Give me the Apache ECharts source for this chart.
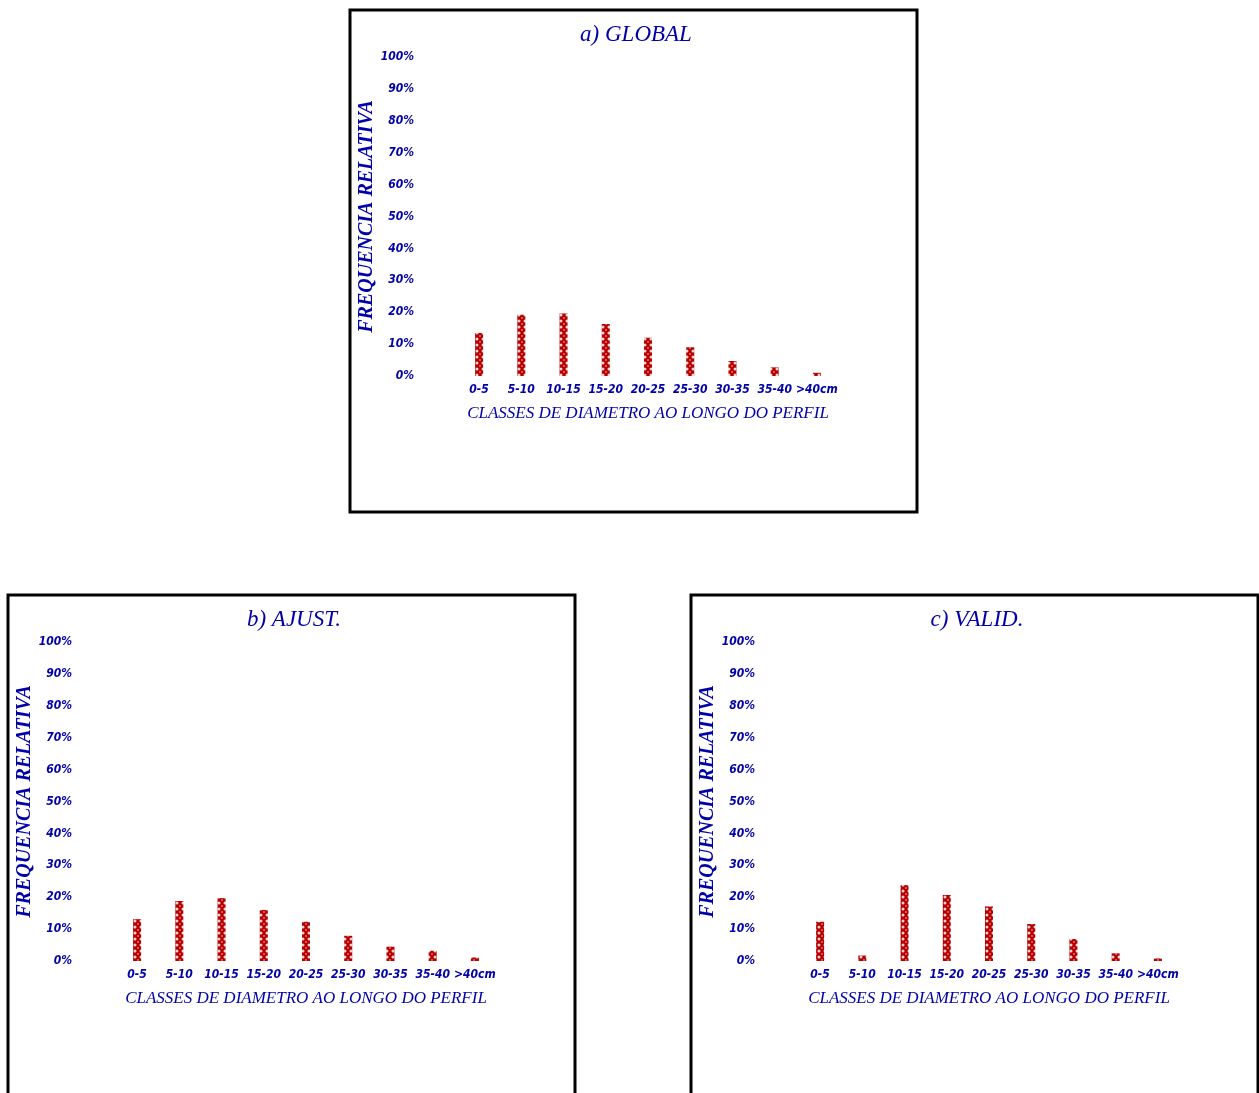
<!DOCTYPE html>
<html><head><meta charset="utf-8">
<script src="https://cdn.jsdelivr.net/npm/echarts@6/dist/echarts.min.js"></script>
<style>html,body{margin:0;padding:0;background:#fff}#c{width:1259px;height:1093px}</style>
</head><body><div id="c"></div>
<script>
const categories = ['0-5','5-10','10-15','15-20','20-25','25-30','30-35','35-40','>40cm'];
const globalVals = [13.5, 19.2, 19.6, 16.3, 12.0, 9.0, 4.7, 2.7, 1.0];
const ajustVals  = [13.1, 18.8, 19.7, 16.0, 12.3, 7.9, 4.5, 3.2, 1.1];
const validVals  = [12.3, 1.7, 23.8, 20.7, 17.1, 11.6, 6.9, 2.4, 0.8];
const panelTitles = ['a) GLOBAL', 'b) AJUST.', 'c) VALID.'];
const yAxisName = 'FREQUENCIA RELATIVA';
const xAxisName = 'CLASSES DE DIAMETRO AO LONGO DO PERFIL';

const BLUE = '#0000a8';
// hatch pattern tile
const tile = document.createElement('canvas');
tile.width = 6; tile.height = 6;
const g = tile.getContext('2d');
g.fillStyle = '#b40000'; g.fillRect(0,0,6,6);
g.fillStyle = '#ffd0d0';
g.beginPath(); g.arc(3,3,1.5,0,Math.PI*2); g.fill();
g.fillStyle = '#e08080';
[[0,0],[6,0],[0,6],[6,6]].forEach(p=>{g.beginPath(); g.arc(p[0],p[1],0.9,0,Math.PI*2); g.fill();});
const pattern = {image: tile, repeat: 'repeat'};

const panels = [[350,10],[8,595],[691,595]];
const datasets = [globalVals, ajustVals, validVals];
const BW = 567, BH = 502;

const sansC = '"Liberation Sans Narrow","DejaVu Sans Condensed",sans-serif';
const serif = '"Liberation Serif","DejaVu Serif",serif';

const grids = [], xAxes = [], yAxes = [], series = [], titles = [], graphics = [];
panels.forEach((p, i) => {
  const bx = p[0], by = p[1];
  graphics.push({type:'rect', shape:{x:bx, y:by, width:BW, height: i===0 ? BH : 600},
    style:{fill:'none', stroke:'#000', lineWidth:3}, z:100});
  titles.push({text: panelTitles[i], left: bx + 281, top: by + 8, textAlign:'center',
    textStyle:{color:BLUE, fontFamily:serif, fontStyle:'italic', fontWeight:'normal', fontSize:23}});
  grids.push({left: bx + 108, top: by + 47, width: 380, height: 319});
  xAxes.push({type:'category', gridIndex:i, data:categories,
    axisLine:{show:false}, axisTick:{show:false},
    axisLabel:{color:BLUE, fontSize:12, margin:8, interval:0, fontFamily:sansC, fontStyle:'italic', fontWeight:'bold'},
    name:xAxisName, nameLocation:'middle', nameGap:29,
    nameTextStyle:{color:BLUE, fontFamily:serif, fontStyle:'italic', fontSize:17}});
  yAxes.push({type:'value', gridIndex:i, min:0, max:100, interval:10,
    axisLine:{show:false}, axisTick:{show:false}, splitLine:{show:false},
    axisLabel:{color:BLUE, fontSize:12, margin:44, formatter:'{value}%', fontFamily:sansC, fontStyle:'italic', fontWeight:'bold'},
    name:yAxisName, nameLocation:'middle', nameGap:79, nameRotate:90,
    nameTextStyle:{color:BLUE, fontFamily:serif, fontStyle:'italic', fontWeight:'bold', fontSize:20}});
  series.push({type:'bar', xAxisIndex:i, yAxisIndex:i, data:datasets[i], barWidth:8,
    itemStyle:{color:pattern}, animation:false});
});

const chart = echarts.init(document.getElementById('c'));
chart.setOption({animation:false, backgroundColor:'#fff', title:titles, grid:grids,
  xAxis:xAxes, yAxis:yAxes, series:series, graphic:graphics});
</script></body></html>
